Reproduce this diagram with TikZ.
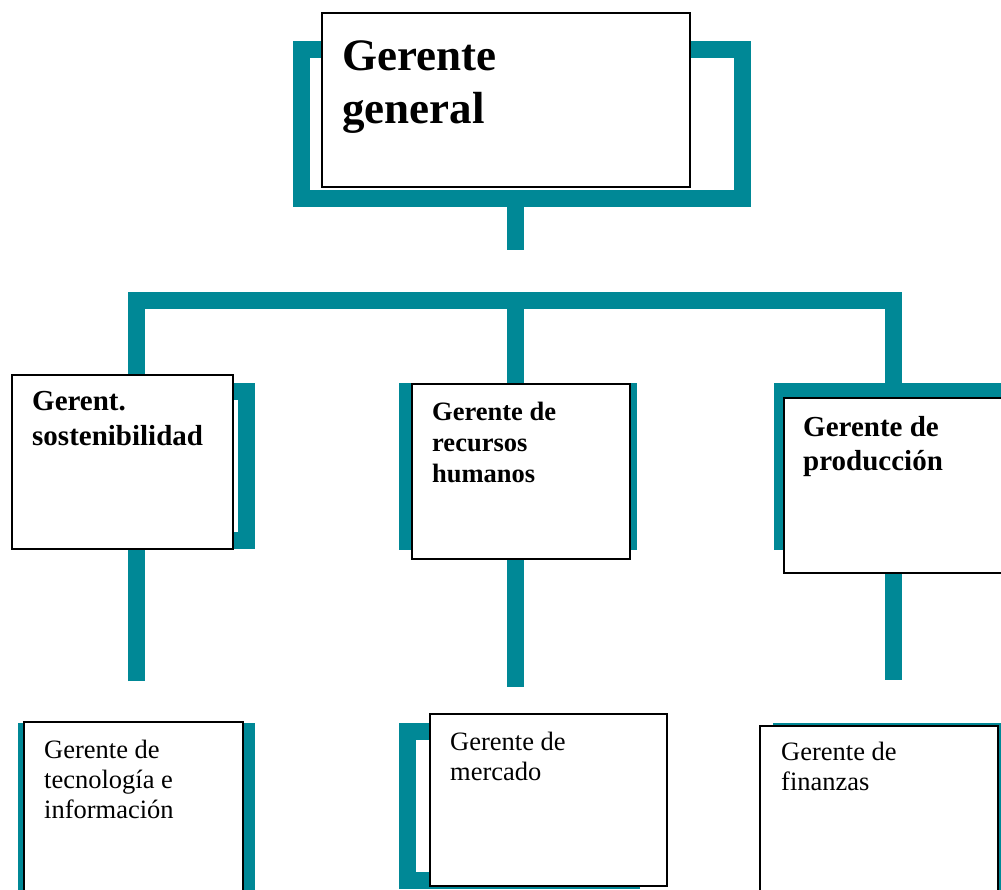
\documentclass[tikz,border=0pt]{standalone}
\usepackage{fontspec}
\setmainfont{Liberation Serif}
\usepackage{tikz}
\usetikzlibrary{arrows,shapes}
\definecolor{orgteal}{RGB}{0,136,150}
\tikzstyle{frame}=[draw=orgteal,line width=17pt]
\tikzstyle{link}=[draw=orgteal,line width=17pt]
\tikzstyle{box}=[draw=black,line width=1.7pt,fill=white,anchor=north west,inner sep=0pt]
\tikzstyle{boxtext}=[anchor=base west,align=left,inner sep=0pt]
\tikzstyle{head}=[boxtext,font=\fontsize{45}{53}\selectfont\bfseries]
\tikzstyle{boss}=[boxtext,font=\fontsize{29}{35}\selectfont\bfseries]
\tikzstyle{staff}=[boxtext,font=\fontsize{26.5}{30}\selectfont]

\begin{document}
\begin{tikzpicture}[x=1pt,y=-1pt]
    \useasboundingbox (0,0) rectangle (1001,889);
    % teal brackets behind every box
    \foreach \x/\y/\X/\Y in {301.5/49.5/742.5/198.5, 26.5/391.5/246.5/540.5,
        407.5/391.5/628.5/541.5, 782.5/391.5/1003.5/541.5,
        26.5/731.5/246.5/905, 407.5/731.5/631.5/880.5, 781.5/731.5/1003.5/905}
        \draw[frame] (\x,\y) rectangle (\X,\Y);
    % connectors
    \coordinate (genfoot) at (515,198.5);
    \coordinate (hub) at (515,250);
    \coordinate (busL) at (136.5,300);
    \coordinate (busM) at (515,300);
    \coordinate (busR) at (893,300);
    \coordinate (endL) at (136.5,681);
    \coordinate (endM) at (515,687);
    \coordinate (endR) at (893,680);
    \draw[link] (genfoot) -- (hub);
    \draw[link] (endL) -- (busL) -- (busR) -- (endR);
    \draw[link] (busM) -- (endM);
    % boxes
    \foreach \pos/\w/\h/\name in {{(321,12)/368/174/gen}, {(11,374)/221/174/sost},
        {(411,383)/218/175/rrhh}, {(783,397)/230/175/prod},
        {(23,721)/219/185/tec}, {(429,713)/237/172/merc}, {(759,725)/238/180/fin}}
        \node[box,minimum width=\w pt,minimum height=\h pt] (\name) at \pos {};
    % texts (anchored on the baseline of the last line)
    \node[head] (gen-t) at (342,123) {Gerente\\general};
    \node[boss] (sost-t) at (32,445) {Gerent.\\sostenibilidad};
    \node[boss,font=\fontsize{26.5}{31}\selectfont\bfseries] (rrhh-t) at (432,482) {Gerente de\\recursos\\humanos};
    \node[boss,font=\fontsize{29}{34}\selectfont\bfseries] (prod-t) at (803,470) {Gerente de\\producción};
    \node[staff] (tec-t) at (44,818) {Gerente de\\tecnología e\\información};
    \node[staff] (merc-t) at (450,780) {Gerente de\\mercado};
    \node[staff] (fin-t) at (781,790) {Gerente de\\finanzas};
\end{tikzpicture}
\end{document}
